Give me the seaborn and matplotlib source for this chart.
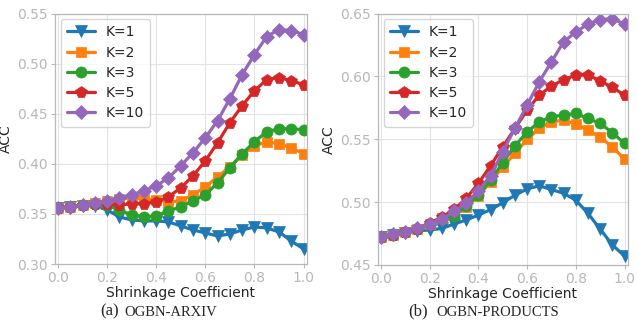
import numpy as np
import pandas as pd
import matplotlib
matplotlib.use("Agg")
import matplotlib.pyplot as plt
import seaborn as sns

# ---------------- data ----------------
shrinkage = [0.0, 0.05, 0.1, 0.15, 0.2, 0.25, 0.3, 0.35, 0.4, 0.45, 0.5,
             0.55, 0.6, 0.65, 0.7, 0.75, 0.8, 0.85, 0.9, 0.95, 1.0]
labels = ["K=1", "K=2", "K=3", "K=5", "K=10"]

arxiv_k1 = [0.356, 0.357, 0.358, 0.358, 0.354, 0.347, 0.344, 0.343, 0.343, 0.342, 0.338,
            0.334, 0.331, 0.328, 0.330, 0.334, 0.337, 0.336, 0.332, 0.323, 0.315]
arxiv_k2 = [0.356, 0.357, 0.359, 0.361, 0.363, 0.365, 0.366, 0.365, 0.364, 0.362, 0.363,
            0.369, 0.377, 0.387, 0.397, 0.409, 0.418, 0.422, 0.420, 0.416, 0.410]
arxiv_k3 = [0.356, 0.357, 0.359, 0.360, 0.359, 0.354, 0.349, 0.347, 0.348, 0.353, 0.357,
            0.363, 0.369, 0.381, 0.396, 0.410, 0.422, 0.432, 0.435, 0.435, 0.434]
arxiv_k5 = [0.356, 0.357, 0.359, 0.360, 0.360, 0.359, 0.360, 0.360, 0.362, 0.367, 0.376,
            0.388, 0.403, 0.421, 0.441, 0.458, 0.473, 0.484, 0.486, 0.483, 0.479]
arxiv_k10 = [0.356, 0.357, 0.359, 0.361, 0.363, 0.366, 0.369, 0.373, 0.378, 0.386, 0.398,
             0.411, 0.426, 0.443, 0.465, 0.489, 0.509, 0.527, 0.534, 0.533, 0.529]

prod_k1 = [0.4725, 0.474, 0.4757, 0.4773, 0.4778, 0.4791, 0.4826, 0.4858, 0.4897, 0.494, 0.4995,
           0.5055, 0.5105, 0.513, 0.510, 0.507, 0.5015, 0.491, 0.4785, 0.466, 0.457]
prod_k2 = [0.472, 0.474, 0.4765, 0.479, 0.4826, 0.487, 0.491, 0.496, 0.505, 0.516, 0.528,
           0.5387, 0.5499, 0.5586, 0.5639, 0.5652, 0.5621, 0.5573, 0.5515, 0.544, 0.534]
prod_k3 = [0.472, 0.474, 0.4765, 0.479, 0.4826, 0.4863, 0.489, 0.4969, 0.5056, 0.5175, 0.5313,
           0.5448, 0.5557, 0.5639, 0.5679, 0.5692, 0.5705, 0.5666, 0.5626, 0.5552, 0.5467]
prod_k5 = [0.472, 0.474, 0.4765, 0.479, 0.4836, 0.4879, 0.4942, 0.503, 0.5149, 0.5289, 0.544,
           0.5586, 0.5732, 0.5851, 0.5923, 0.5975, 0.601, 0.601, 0.5965, 0.5912, 0.5851]
prod_k10 = [0.4725, 0.4747, 0.4766, 0.4793, 0.4827, 0.4866, 0.4926, 0.499, 0.509, 0.521, 0.5401,
            0.5586, 0.5772, 0.5957, 0.6116, 0.6275, 0.6354, 0.6415, 0.645, 0.646, 0.6415]

arxiv_series = [arxiv_k1, arxiv_k2, arxiv_k3, arxiv_k5, arxiv_k10]
prod_series = [prod_k1, prod_k2, prod_k3, prod_k5, prod_k10]

arxiv_yticks = [0.30, 0.35, 0.40, 0.45, 0.50, 0.55]
prod_yticks = [0.45, 0.50, 0.55, 0.60, 0.65]
xticks = [0.0, 0.2, 0.4, 0.6, 0.8, 1.0]

# ---------------- style ----------------
sns.set_style("whitegrid", rc={
    "axes.edgecolor": "#b8b8b8",
    "grid.color": "#e3e3e3",
    "xtick.bottom": True,
    "ytick.left": True,
    "xtick.color": "#b8b8b8",
    "ytick.color": "#b8b8b8",
    "xtick.labelcolor": "black",
    "ytick.labelcolor": "black",
})
plt.rcParams["font.family"] = ["DejaVu Sans"]
plt.rcParams["font.size"] = 10

colors = ["#1f77b4", "#ff7f0e", "#2ca02c", "#d62728", "#9467bd"]
markers = ["v", "s", "o", "p", "D"]
msizes = [8, 7.5, 8, 8.5, 7]

fig = plt.figure(figsize=(6.37, 3.22), dpi=100)
ax1 = fig.add_axes([55 / 637, 58 / 322, 251.5 / 637, 250.5 / 322])
ax2 = fig.add_axes([378 / 637, 57 / 322, 249.5 / 637, 251.5 / 322])


def draw(ax, series, ylim, yticks):
    for ys, lab, c, m, ms in zip(series, labels, colors, markers, msizes):
        sns.lineplot(x=shrinkage, y=ys, ax=ax, color=c, marker=m, markersize=ms,
                     linewidth=2.3, markeredgecolor=c, markeredgewidth=0.5,
                     label=lab, legend=False)
    ax.set_xlim(-0.012, 1.012)
    ax.set_ylim(*ylim)
    ax.set_xticks(xticks)
    ax.set_yticks(yticks)
    ax.set_xticklabels([f"{v:.1f}" for v in xticks])
    ax.set_yticklabels([f"{v:.2f}" for v in yticks])
    ax.tick_params(length=3, width=0.8, labelsize=10, pad=2)
    ax.set_xlabel("Shrinkage Coefficient", fontsize=10, labelpad=1)
    ax.set_ylabel("ACC", fontsize=10)
    ax.yaxis.set_label_coords(-0.167, 0.5)
    for sp in ax.spines.values():
        sp.set_linewidth(0.9)
    leg = ax.legend(loc="upper left", fontsize=10, frameon=True, borderaxespad=0.4,
                    handlelength=2.0, labelspacing=0.45, borderpad=0.45)
    leg.get_frame().set_edgecolor("#cccccc")


draw(ax1, arxiv_series, (0.30, 0.55), arxiv_yticks)
draw(ax2, prod_series, (0.45, 0.65), prod_yticks)

serif = ["Liberation Serif", "DejaVu Serif"]
ybase = 6.5 / 322
fig.text(100 / 637, ybase, "(a)", family=serif, fontsize=12, va="baseline", ha="left")
fig.text(124 / 637, ybase, "OGBN-ARXIV", family=serif, fontsize=10.5, va="baseline", ha="left")
fig.text(408 / 637, ybase, "(b)", family=serif, fontsize=12, va="baseline", ha="left")
fig.text(436 / 637, ybase, "OGBN-PRODUCTS", family=serif, fontsize=10.5, va="baseline", ha="left")

fig.savefig("out.png", dpi=100)
